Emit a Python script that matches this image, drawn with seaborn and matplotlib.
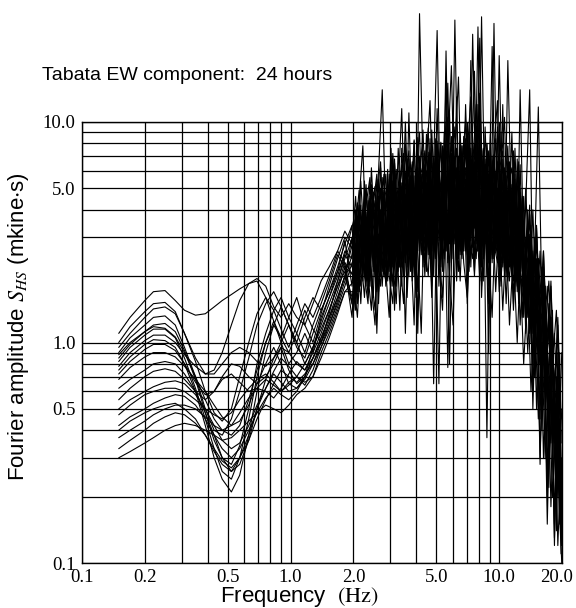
import matplotlib
matplotlib.use("Agg")
import matplotlib.pyplot as plt
import matplotlib.transforms as mtransforms
import numpy as np
import pandas as pd
import seaborn as sns
from matplotlib.ticker import FixedLocator, FixedFormatter

# ---------------- data ----------------
FREQ_LOW = [0.15, 0.17, 0.20, 0.22, 0.25, 0.28, 0.31, 0.35, 0.39, 0.43,
            0.47, 0.52, 0.57, 0.63, 0.69, 0.76, 0.83, 0.90, 0.98, 1.07,
            1.17, 1.28, 1.40, 1.53, 1.68, 1.82]

FREQ_HIGH_A = [1.97, 2.05, 2.13, 2.22, 2.30, 2.40, 2.49, 2.59, 2.70, 2.80,
               2.92, 3.03, 3.15, 3.28, 3.41, 3.55, 3.69, 3.83, 3.99, 4.15,
               4.31, 4.48, 4.66, 4.85, 5.04, 5.25, 5.45, 5.67, 5.90, 6.13,
               6.38, 6.63, 6.90, 7.17, 7.46, 7.76, 8.07, 8.39, 8.73, 9.07,
               9.44, 9.81, 10.2, 10.6, 11.0, 11.5, 11.9, 12.4, 12.9, 13.4,
               14.0, 14.5, 15.1, 15.7, 16.3, 17.0, 17.7, 18.4, 19.1, 19.8]

FREQ_HIGH_B = [2.01, 2.09, 2.17, 2.26, 2.35, 2.44, 2.54, 2.64, 2.75, 2.86,
               2.97, 3.09, 3.21, 3.34, 3.48, 3.62, 3.76, 3.91, 4.07, 4.23,
               4.40, 4.57, 4.75, 4.94, 5.14, 5.35, 5.56, 5.78, 6.01, 6.25,
               6.50, 6.76, 7.03, 7.31, 7.61, 7.91, 8.23, 8.56, 8.90, 9.25,
               9.62, 10.0, 10.4, 10.8, 11.2, 11.7, 12.2, 12.6, 13.1, 13.7,
               14.2, 14.8, 15.4, 16.0, 16.6, 17.3, 18.0, 18.8, 19.5, 19.95]

LOW_01 = [1.10, 1.30, 1.55, 1.70, 1.72, 1.55, 1.40, 1.33, 1.35, 1.45, 1.55, 1.65, 1.75, 1.85, 1.95, 1.80, 1.45, 1.30, 1.50, 1.30, 1.20, 1.50, 1.90, 2.20, 2.60, 2.30]
LOW_02 = [0.95, 1.10, 1.30, 1.42, 1.45, 1.35, 1.10, 0.85, 0.72, 0.75, 0.90, 1.20, 1.55, 1.85, 1.90, 1.60, 1.25, 1.05, 1.30, 1.60, 1.20, 1.00, 1.35, 1.80, 2.40, 3.00]
LOW_03 = [0.90, 1.05, 1.20, 1.30, 1.32, 1.20, 0.95, 0.70, 0.50, 0.40, 0.38, 0.45, 0.60, 0.85, 1.20, 1.50, 1.70, 1.45, 1.20, 1.00, 1.30, 1.60, 1.40, 1.70, 2.20, 2.80]
LOW_04 = [0.85, 0.98, 1.12, 1.20, 1.22, 1.12, 0.92, 0.68, 0.48, 0.36, 0.30, 0.28, 0.34, 0.50, 0.80, 1.10, 1.40, 1.60, 1.30, 1.10, 0.90, 1.20, 1.50, 1.90, 2.50, 2.20]
LOW_05 = [0.82, 0.95, 1.08, 1.15, 1.15, 1.05, 0.85, 0.62, 0.45, 0.33, 0.26, 0.24, 0.30, 0.45, 0.70, 1.00, 1.25, 1.00, 0.80, 0.90, 1.10, 0.90, 1.30, 1.60, 2.00, 2.60]
LOW_06 = [0.78, 0.90, 1.02, 1.08, 1.08, 1.00, 0.88, 0.78, 0.72, 0.72, 0.80, 0.90, 0.95, 0.90, 0.82, 0.78, 0.85, 1.00, 1.20, 0.95, 0.85, 1.10, 1.40, 1.70, 2.10, 2.50]
LOW_07 = [0.75, 0.86, 0.98, 1.03, 1.02, 0.95, 0.80, 0.60, 0.42, 0.30, 0.24, 0.21, 0.25, 0.38, 0.60, 0.90, 1.20, 1.45, 1.20, 1.00, 0.80, 0.95, 1.25, 1.60, 2.10, 2.90]
LOW_08 = [0.72, 0.82, 0.93, 0.98, 0.98, 0.92, 0.80, 0.66, 0.58, 0.60, 0.70, 0.80, 0.78, 0.70, 0.65, 0.70, 0.80, 0.95, 0.75, 0.65, 0.70, 0.95, 1.20, 1.50, 1.90, 2.40]
LOW_09 = [0.68, 0.77, 0.86, 0.90, 0.90, 0.86, 0.78, 0.68, 0.60, 0.52, 0.46, 0.42, 0.44, 0.52, 0.65, 0.80, 0.95, 0.80, 0.65, 0.62, 0.70, 0.85, 1.05, 1.30, 1.70, 2.20]
LOW_10 = [0.62, 0.68, 0.75, 0.80, 0.82, 0.80, 0.72, 0.60, 0.48, 0.38, 0.30, 0.26, 0.28, 0.36, 0.50, 0.68, 0.85, 0.95, 0.90, 0.80, 0.75, 0.90, 1.10, 1.40, 1.80, 2.30]
LOW_11 = [0.50, 0.55, 0.60, 0.63, 0.66, 0.67, 0.65, 0.58, 0.50, 0.42, 0.36, 0.33, 0.35, 0.42, 0.52, 0.62, 0.72, 0.66, 0.60, 0.62, 0.68, 0.80, 1.00, 1.25, 1.60, 2.00]
LOW_12 = [0.47, 0.52, 0.58, 0.60, 0.62, 0.62, 0.60, 0.55, 0.50, 0.47, 0.45, 0.48, 0.55, 0.62, 0.68, 0.72, 0.66, 0.60, 0.64, 0.70, 0.80, 0.95, 1.15, 1.40, 1.80, 2.10]
LOW_13 = [0.42, 0.46, 0.50, 0.53, 0.56, 0.58, 0.57, 0.52, 0.45, 0.38, 0.33, 0.30, 0.33, 0.40, 0.48, 0.56, 0.62, 0.58, 0.55, 0.60, 0.70, 0.85, 1.00, 1.20, 1.50, 1.90]
LOW_14 = [0.37, 0.40, 0.44, 0.47, 0.50, 0.52, 0.52, 0.50, 0.46, 0.42, 0.40, 0.42, 0.48, 0.56, 0.62, 0.60, 0.56, 0.62, 0.72, 0.82, 0.75, 0.85, 1.05, 1.30, 1.60, 2.00]
LOW_15 = [0.33, 0.36, 0.40, 0.43, 0.46, 0.48, 0.47, 0.43, 0.38, 0.33, 0.29, 0.27, 0.30, 0.36, 0.45, 0.55, 0.65, 0.75, 0.70, 0.66, 0.72, 0.80, 0.95, 1.15, 1.45, 1.80]
LOW_16 = [0.30, 0.32, 0.35, 0.37, 0.40, 0.42, 0.43, 0.42, 0.40, 0.38, 0.36, 0.37, 0.40, 0.44, 0.48, 0.52, 0.50, 0.48, 0.52, 0.58, 0.62, 0.70, 0.85, 1.05, 1.35, 1.70]
LOW_17 = [1.00, 1.18, 1.38, 1.50, 1.52, 1.38, 1.10, 0.82, 0.60, 0.48, 0.44, 0.50, 0.70, 1.00, 1.35, 1.60, 1.40, 1.15, 0.95, 1.20, 1.50, 1.30, 1.60, 2.00, 2.60, 3.20]
LOW_18 = [0.55, 0.62, 0.70, 0.74, 0.76, 0.74, 0.68, 0.60, 0.55, 0.60, 0.68, 0.72, 0.66, 0.60, 0.62, 0.68, 0.64, 0.60, 0.66, 0.70, 0.64, 0.75, 0.95, 1.20, 1.55, 2.00]
LOW_19 = [0.88, 1.00, 1.12, 1.18, 1.16, 1.06, 0.90, 0.70, 0.55, 0.45, 0.40, 0.38, 0.42, 0.55, 0.75, 1.00, 1.20, 1.05, 0.90, 1.10, 1.40, 1.15, 1.00, 1.35, 1.90, 2.50]
LOW_20 = [0.40, 0.44, 0.48, 0.50, 0.52, 0.53, 0.50, 0.45, 0.38, 0.32, 0.28, 0.26, 0.30, 0.38, 0.50, 0.62, 0.74, 0.85, 0.78, 0.70, 0.66, 0.70, 0.90, 1.10, 1.40, 1.70]

HIGH_01 = [1.5, 2.8, 1.9, 3.6, 2.2, 4.5, 2.6, 1.7, 4.0, 2.5,
           5.5, 2.4, 6.8, 2.9, 1.8, 5.1, 7.4, 2.6, 6.0, 9.0,
           2.9, 6.6, 12.5, 3.2, 8.0, 2.4, 6.1, 10.5, 3.0, 7.2,
           16.0, 3.3, 8.4, 2.5, 6.3, 12.0, 2.9, 7.5, 2.2, 6.8,
           3.0, 9.5, 2.3, 6.0, 1.9, 5.2, 1.7, 4.0, 1.3, 3.0,
           1.1, 2.4, 0.5, 1.6, 0.3, 1.0, 0.18, 0.6, 0.12, 0.3]
HIGH_02 = [2.6, 1.5, 3.4, 2.0, 4.4, 1.8, 1.2, 3.6, 5.6, 2.1,
           1.3, 3.9, 6.1, 2.2, 4.9, 1.6, 4.3, 8.2, 2.4, 1.1,
           5.4, 9.4, 2.6, 7.0, 1.8, 7.8, 3.1, 11.0, 2.4, 6.2,
           3.2, 8.6, 2.1, 19.0, 3.4, 7.4, 2.2, 6.0, 1.8, 5.2,
           8.4, 2.6, 12.0, 2.2, 5.6, 1.5, 6.8, 1.9, 4.6, 1.3,
           3.4, 1.0, 2.4, 0.6, 1.6, 0.35, 1.0, 0.22, 0.45, 0.12]
HIGH_03 = [3.4, 1.8, 4.4, 7.8, 2.7, 1.9, 4.8, 1.1, 3.6, 5.8,
           2.0, 4.8, 1.4, 4.2, 6.4, 2.3, 11.0, 3.4, 1.6, 31.0,
           6.2, 2.5, 8.4, 2.0, 6.6, 3.0, 9.0, 2.3, 7.2, 3.4,
           2.1, 6.2, 10.2, 2.7, 25.0, 4.0, 1.9, 7.4, 2.8, 8.8,
           2.4, 6.6, 1.8, 5.0, 7.8, 2.1, 4.8, 1.5, 3.6, 1.2,
           2.6, 0.6, 2.0, 0.3, 1.2, 0.2, 0.9, 0.13, 0.5, 0.11]
HIGH_04 = [2.0, 3.7, 2.2, 4.6, 2.6, 5.2, 3.0, 6.0, 14.0, 3.6,
           2.7, 7.2, 3.3, 1.4, 4.6, 6.8, 2.6, 5.7, 1.1, 5.0,
           7.4, 2.5, 9.2, 3.6, 0.65, 5.8, 10.0, 2.8, 6.8, 3.2,
           8.2, 2.6, 7.2, 13.0, 3.3, 8.6, 2.7, 6.4, 0.9, 7.0,
           3.0, 20.0, 3.5, 2.0, 6.6, 2.7, 1.8, 5.0, 1.3, 3.4,
           1.0, 2.9, 0.8, 1.9, 0.5, 1.4, 0.3, 0.7, 0.16, 0.1]
HIGH_05 = [2.4, 4.0, 1.7, 3.2, 5.2, 2.0, 4.2, 5.8, 2.7, 2.0,
           4.4, 5.9, 2.2, 7.6, 3.2, 2.6, 6.8, 1.9, 5.4, 2.8,
           7.2, 2.8, 5.8, 0.65, 4.6, 8.0, 3.2, 6.3, 2.6, 29.0,
           3.5, 7.8, 2.8, 6.0, 3.2, 9.6, 3.5, 1.9, 7.9, 2.8,
           6.6, 2.9, 9.0, 2.5, 19.0, 3.2, 1.9, 5.6, 2.2, 1.6,
           3.8, 1.2, 3.0, 0.9, 2.2, 0.6, 1.3, 0.4, 0.7, 0.2]
HIGH_06 = [3.6, 1.9, 5.4, 2.7, 2.2, 6.2, 2.9, 1.5, 4.0, 5.8,
           2.1, 5.4, 2.5, 6.0, 2.0, 5.2, 2.8, 1.2, 5.8, 2.9,
           6.4, 3.0, 7.4, 2.8, 6.8, 3.3, 7.2, 0.8, 5.6, 7.6,
           2.9, 6.7, 9.2, 3.0, 8.0, 2.6, 30.0, 3.3, 7.4, 2.3,
           5.8, 7.2, 2.2, 5.0, 2.5, 6.1, 2.2, 14.0, 2.4, 1.5,
           3.2, 1.1, 2.4, 0.7, 1.8, 0.45, 1.0, 0.25, 0.6, 0.14]
HIGH_07 = [1.8, 3.2, 4.2, 2.3, 5.0, 2.6, 1.6, 4.6, 6.6, 2.8,
           6.1, 1.8, 5.6, 2.6, 7.6, 3.3, 2.0, 6.4, 2.9, 6.8,
           2.2, 5.9, 7.0, 2.7, 8.2, 3.4, 2.4, 7.2, 18.0, 3.6,
           6.9, 2.5, 8.0, 3.4, 6.4, 2.9, 8.4, 3.0, 6.3, 2.1,
           28.0, 2.7, 6.1, 2.1, 5.1, 6.2, 2.5, 1.8, 4.5, 1.1,
           2.4, 0.5, 1.9, 0.28, 1.4, 0.15, 0.8, 0.12, 0.6, 0.2]
HIGH_08 = [3.1, 4.3, 2.1, 5.4, 1.9, 4.2, 5.1, 2.2, 4.6, 2.4,
           5.8, 2.7, 1.8, 5.2, 7.2, 2.8, 5.7, 2.4, 8.5, 3.0,
           2.3, 7.3, 3.5, 2.7, 6.4, 2.1, 8.2, 3.2, 6.6, 2.7,
           9.0, 3.7, 2.5, 7.6, 3.5, 27.0, 3.0, 6.8, 2.6, 5.7,
           2.6, 6.0, 7.4, 2.7, 1.9, 5.4, 2.3, 6.4, 1.8, 4.0,
           1.3, 2.7, 1.0, 1.8, 0.6, 1.2, 0.4, 0.55, 0.2, 0.15]
HIGH_09 = [1.3, 2.6, 3.5, 1.9, 3.9, 2.1, 4.8, 2.4, 1.8, 4.9,
           2.6, 6.4, 2.2, 4.9, 11.5, 2.7, 5.5, 2.2, 6.1, 3.1,
           5.7, 2.1, 6.7, 3.0, 7.4, 2.5, 5.9, 0.77, 5.5, 6.9,
           2.4, 7.8, 3.3, 7.2, 2.7, 6.2, 2.8, 7.6, 0.37, 5.4,
           7.1, 2.8, 5.4, 2.0, 6.6, 2.4, 7.6, 2.1, 3.2, 1.4,
           3.0, 1.1, 2.3, 0.8, 1.7, 0.6, 1.1, 0.35, 0.6, 0.18]
HIGH_10 = [2.0, 3.4, 4.2, 2.0, 3.9, 4.7, 2.1, 5.5, 2.6, 1.9,
           2.5, 6.9, 2.9, 5.5, 2.3, 6.6, 2.2, 8.3, 2.6, 5.3,
           3.1, 6.7, 2.3, 8.4, 3.3, 2.8, 16.0, 3.0, 7.7, 2.5,
           6.3, 3.0, 8.0, 2.2, 6.6, 3.6, 2.4, 9.5, 3.2, 22.0,
           3.2, 2.2, 6.8, 3.3, 2.3, 7.4, 1.9, 4.8, 1.7, 3.6,
           1.4, 3.0, 1.1, 2.2, 0.7, 1.5, 0.45, 0.9, 0.3, 0.5]
HIGH_11 = [3.0, 1.6, 2.9, 3.8, 1.8, 4.6, 2.4, 5.5, 2.6, 4.8,
           1.9, 4.5, 5.9, 2.3, 5.3, 1.1, 4.6, 6.6, 2.5, 5.6,
           6.3, 3.0, 2.5, 6.9, 3.2, 8.1, 2.9, 5.8, 2.3, 6.7,
           3.2, 7.0, 2.6, 8.6, 3.4, 2.4, 6.6, 3.0, 8.0, 2.7,
           5.3, 2.4, 6.2, 10.5, 2.8, 2.0, 5.5, 2.4, 1.8, 4.2,
           14.0, 1.6, 3.4, 1.3, 2.6, 0.9, 1.8, 0.6, 1.2, 0.35]
HIGH_12 = [1.5, 2.9, 3.9, 2.0, 1.5, 3.4, 4.4, 2.1, 3.7, 1.8,
           4.6, 2.2, 4.8, 2.6, 5.7, 2.2, 4.9, 2.7, 6.2, 3.0,
           2.6, 5.6, 6.5, 2.7, 5.9, 2.4, 21.0, 2.9, 5.3, 2.2,
           5.9, 2.6, 5.1, 6.7, 2.3, 5.7, 7.1, 2.8, 5.3, 2.4,
           5.9, 2.1, 4.3, 5.7, 2.2, 4.3, 1.7, 3.6, 1.5, 3.1,
           1.2, 2.6, 11.7, 1.6, 1.1, 1.9, 0.8, 1.4, 0.5, 0.9]
HIGH_13 = [2.5, 3.6, 1.7, 3.1, 4.2, 5.6, 2.6, 2.0, 3.6, 4.5,
           5.1, 2.4, 5.4, 2.1, 4.3, 5.9, 3.0, 2.3, 5.8, 2.6,
           4.9, 6.0, 2.5, 5.0, 6.2, 2.2, 5.4, 15.0, 2.8, 5.2,
           2.7, 5.7, 6.2, 2.1, 5.3, 6.8, 2.6, 5.5, 2.0, 4.7,
           2.4, 5.0, 1.9, 4.0, 4.9, 2.1, 4.2, 1.6, 3.6, 1.4,
           3.1, 0.8, 2.4, 0.45, 1.9, 0.25, 1.3, 0.15, 0.9, 0.13]
HIGH_14 = [3.0, 1.7, 3.2, 3.9, 2.0, 1.4, 3.5, 4.6, 2.1, 4.2,
           5.2, 2.3, 1.5, 4.4, 5.0, 2.5, 5.3, 2.0, 4.6, 5.8,
           2.7, 2.0, 5.4, 6.5, 2.9, 5.5, 2.6, 6.0, 3.1, 13.0,
           2.5, 5.2, 6.5, 2.9, 5.9, 2.6, 4.9, 6.4, 2.3, 5.3,
           2.8, 2.2, 4.8, 2.4, 6.1, 2.3, 1.9, 4.1, 1.9, 1.5,
           2.8, 0.7, 2.3, 0.4, 1.8, 0.22, 1.4, 0.14, 0.9, 0.12]
HIGH_15 = [2.3, 1.4, 2.8, 3.6, 1.9, 4.0, 2.1, 4.1, 2.0, 3.7,
           4.6, 1.9, 4.2, 5.0, 2.2, 4.7, 2.5, 5.3, 2.3, 4.8,
           2.7, 5.3, 2.4, 4.7, 5.6, 2.6, 4.9, 2.5, 5.9, 2.8,
           5.0, 2.4, 5.5, 2.9, 2.4, 5.0, 24.0, 2.4, 4.7, 5.5,
           2.8, 2.3, 4.8, 2.4, 2.0, 4.4, 2.1, 1.8, 3.8, 1.6,
           1.3, 2.6, 1.0, 0.8, 1.8, 0.55, 0.35, 0.7, 0.2, 0.4]
HIGH_16 = [1.7, 2.8, 1.5, 3.3, 1.8, 3.6, 2.0, 4.2, 2.4, 1.9,
           3.9, 4.7, 2.0, 4.3, 2.3, 4.9, 2.6, 2.2, 5.2, 2.5,
           5.5, 2.7, 5.0, 2.4, 4.8, 5.8, 2.6, 5.3, 2.9, 5.4,
           2.6, 5.3, 2.7, 5.0, 17.0, 2.6, 5.2, 2.9, 5.8, 2.5,
           4.9, 2.6, 2.3, 4.7, 2.5, 1.9, 4.0, 2.0, 1.5, 3.3,
           1.4, 1.1, 2.2, 1.6, 0.8, 0.45, 1.1, 0.3, 0.6, 0.16]
HIGH_17 = [2.8, 4.6, 2.3, 3.9, 2.9, 5.3, 2.2, 3.2, 5.0, 2.7,
           4.0, 2.5, 6.5, 3.0, 2.4, 8.0, 2.7, 6.2, 3.3, 7.0,
           3.4, 8.8, 2.8, 6.4, 26.0, 3.0, 7.6, 2.4, 8.6, 4.0,
           7.0, 2.6, 12.0, 3.8, 7.2, 2.8, 9.4, 2.5, 7.6, 3.3,
           6.4, 2.5, 5.8, 2.3, 7.0, 2.6, 5.8, 2.0, 4.6, 2.1,
           4.2, 1.6, 3.3, 1.2, 2.6, 0.9, 1.9, 0.6, 1.3, 0.45]
HIGH_18 = [1.4, 2.4, 1.8, 3.0, 1.6, 2.8, 3.8, 1.7, 3.1, 2.2,
           3.6, 1.8, 4.0, 2.4, 1.5, 4.5, 2.1, 3.9, 1.7, 4.6,
           2.0, 4.2, 1.6, 4.8, 2.3, 1.4, 4.4, 2.0, 1.2, 4.0,
           1.9, 5.0, 1.5, 4.6, 2.1, 12.0, 1.6, 4.3, 2.4, 1.3,
           4.1, 1.7, 3.7, 1.5, 4.2, 1.4, 3.3, 1.2, 2.6, 0.9,
           2.0, 0.7, 1.4, 0.45, 0.9, 0.3, 0.55, 0.2, 0.3, 0.12]
HIGH_19 = [2.2, 3.3, 4.9, 2.4, 3.7, 1.8, 4.4, 2.9, 6.2, 2.3,
           3.4, 7.6, 2.6, 4.8, 3.1, 10.0, 3.3, 6.1, 2.4, 5.2,
           9.2, 3.6, 6.5, 2.7, 11.5, 3.2, 7.0, 2.8, 6.1, 9.5,
           3.0, 6.8, 3.6, 8.6, 2.9, 6.6, 13.5, 3.1, 7.1, 2.6,
           7.6, 12.5, 3.0, 6.2, 2.4, 9.0, 2.8, 6.6, 2.1, 5.0,
           1.8, 4.0, 1.3, 2.6, 1.0, 1.8, 0.65, 1.1, 0.4, 0.25]
HIGH_20 = [1.9, 1.3, 2.5, 1.6, 3.0, 2.0, 1.4, 3.1, 1.8, 3.5,
           2.0, 1.5, 3.8, 2.2, 4.1, 1.8, 3.6, 2.5, 1.4, 4.4,
           2.3, 3.9, 1.8, 4.6, 2.6, 1.6, 4.1, 2.1, 10.5, 1.9,
           4.4, 2.3, 1.6, 4.0, 2.0, 4.7, 1.8, 3.9, 1.5, 4.2,
           1.7, 3.6, 1.4, 3.0, 1.2, 2.6, 1.0, 2.2, 0.8, 1.8,
           0.6, 1.4, 0.45, 1.0, 0.3, 0.7, 0.2, 0.45, 0.15, 0.3]

LOWS = [LOW_01, LOW_02, LOW_03, LOW_04, LOW_05, LOW_06, LOW_07, LOW_08, LOW_09, LOW_10,
        LOW_11, LOW_12, LOW_13, LOW_14, LOW_15, LOW_16, LOW_17, LOW_18, LOW_19, LOW_20]
HIGHS = [HIGH_01, HIGH_02, HIGH_03, HIGH_04, HIGH_05, HIGH_06, HIGH_07, HIGH_08, HIGH_09, HIGH_10,
         HIGH_11, HIGH_12, HIGH_13, HIGH_14, HIGH_15, HIGH_16, HIGH_17, HIGH_18, HIGH_19, HIGH_20]

X_GRID = [0.1, 0.2, 0.3, 0.4, 0.5, 0.6, 0.7, 0.8, 0.9,
          1, 2, 3, 4, 5, 6, 7, 8, 9, 10, 20]
X_LABELED = {0.1: "0.1", 0.2: "0.2", 0.5: "0.5", 1: "1.0", 2: "2.0",
             5: "5.0", 10: "10.0", 20: "20.0"}
Y_GRID = [0.1, 0.2, 0.3, 0.4, 0.5, 0.6, 0.7, 0.8, 0.9,
          1, 2, 3, 4, 5, 6, 7, 8, 9, 10]
Y_LABELED = {0.1: "0.1", 0.5: "0.5", 1: "1.0", 5: "5.0", 10: "10.0"}

# ---------------- build long table ----------------
rows = []
for i, (lo, hi) in enumerate(zip(LOWS, HIGHS)):
    fh = FREQ_HIGH_A if i % 2 == 0 else FREQ_HIGH_B
    for f, a in zip(FREQ_LOW + fh, lo + hi):
        rows.append((i, f, a))
df = pd.DataFrame(rows, columns=["curve", "freq", "amp"])

# ---------------- figure ----------------
sns.set_theme(style="white")
plt.rcParams["font.family"] = ["Liberation Sans", "DejaVu Sans"]
plt.rcParams["mathtext.fontset"] = "stix"

W, H = 576, 608
fig = plt.figure(figsize=(W / 100, H / 100), dpi=100)
ax = fig.add_axes([82 / W, 1 - 563 / H, 480 / W, 441 / H])
ax.set_xscale("log")
ax.set_yscale("log")

sns.lineplot(data=df, x="freq", y="amp", units="curve", estimator=None,
             color="black", linewidth=0.8, ax=ax, legend=False)
for ln in ax.lines:
    ln.set_clip_on(False)
    ln.set_zorder(3)

ax.set_xlim(0.1, 20)
ax.set_ylim(0.1, 10)

for xv in X_GRID:
    ax.axvline(xv, color="black", lw=0.9, zorder=1)
for yv in Y_GRID:
    ax.axhline(yv, color="black", lw=0.9, zorder=1)

ax.xaxis.set_major_locator(FixedLocator(X_GRID))
ax.xaxis.set_major_formatter(FixedFormatter([X_LABELED.get(v, "") for v in X_GRID]))
ax.xaxis.set_minor_locator(FixedLocator([]))
ax.yaxis.set_major_locator(FixedLocator(Y_GRID))
ax.yaxis.set_major_formatter(FixedFormatter([Y_LABELED.get(v, "") for v in Y_GRID]))
ax.yaxis.set_minor_locator(FixedLocator([]))
ax.tick_params(axis="both", which="major", direction="inout", length=5,
               width=0.8, color="black", labelsize=13.5, pad=2)
for lab in ax.get_xticklabels() + ax.get_yticklabels():
    lab.set_family("Liberation Serif")
    lab.set_color("black")

# keep the rightmost x label inside the canvas
fig.canvas.draw()
last = ax.get_xticklabels()[-1]
last.set_transform(last.get_transform() +
                   mtransforms.ScaledTranslation(-4 / 72, 0, fig.dpi_scale_trans))

for s in ax.spines.values():
    s.set_color("black")
    s.set_linewidth(1.0)

ax.set_xlabel("")
ax.set_ylabel("")

fig.text(42 / W, 1 - 75 / H, "Tabata EW component:  24 hours",
         fontsize=14, ha="left", va="center", color="black")
fig.text(300 / W, 1 - 597 / H, r"Frequency  $(\mathrm{Hz})$",
         fontsize=16, ha="center", va="center", color="black")
fig.text(19 / W, 1 - 327 / H, r"Fourier amplitude $S_{HS}$ (mkine$\cdot$s)",
         fontsize=16, ha="center", va="center", rotation=90, color="black")

fig.savefig("out.png", dpi=100, facecolor="white")
